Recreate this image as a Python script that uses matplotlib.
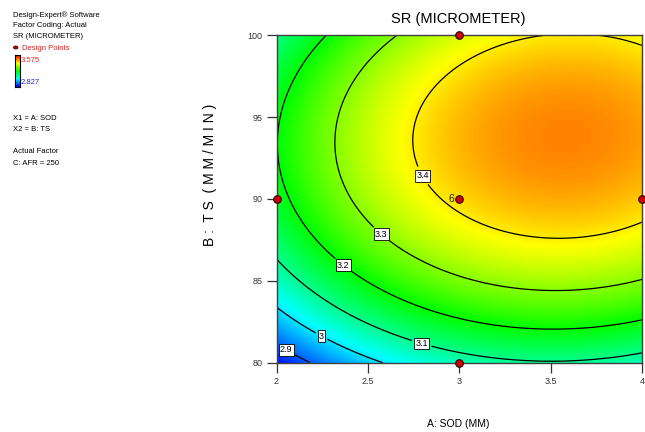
import numpy as np
import matplotlib
matplotlib.use("Agg")
import matplotlib.pyplot as plt
from matplotlib.colors import LinearSegmentedColormap

plt.rcParams['font.family'] = ['Liberation Sans', 'DejaVu Sans']

# response surface (coded factors x = A - 3, y = (B - 90) / 10)
coef_const = 3.4134
coef_a = 0.1253
coef_b = 0.1467
coef_aa = -0.1122
coef_bb = -0.200
coef_ab = 0.01265

z_min = 2.827
z_max = 3.575

contour_levels = [2.9, 3.0, 3.1, 3.2, 3.3, 3.4]
label_spots = [(2.07, 81.1), (2.26, 81.9), (2.80, 81.4), (2.375, 86.1), (2.576, 87.9), (2.78, 91.3)]

# design points
design_a = [2, 3, 3, 4, 3]
design_b = [90, 100, 90, 90, 80]

x_ticks = [2, 2.5, 3, 3.5, 4]
x_tick_labels = ["2", "2.5", "3", "3.5", "4"]
y_ticks = [80, 85, 90, 95, 100]

legend_lines = ["Design-Expert\u00ae Software", "Factor Coding: Actual", "SR (MICROMETER)"]
factor_lines = ["X1 = A: SOD", "X2 = B: TS", "", "Actual Factor", "C: AFR = 250"]


def predict(a, b):
    x = a - 3.0
    y = (b - 90.0) / 10.0
    return (coef_const + coef_a * x + coef_b * y + coef_aa * x ** 2
            + coef_bb * y ** 2 + coef_ab * x * y)


de_cmap = LinearSegmentedColormap.from_list(
    "de", [(0, "#0000ff"), (0.25, "#00ffff"), (0.5, "#00ff00"),
           (0.75, "#ffff00"), (1.0, "#ff0000")])

W, H = 645, 432
fig = plt.figure(figsize=(W / 100, H / 100), dpi=100)
ax = fig.add_axes([276.5 / W, 1 - 362.7 / H, (642 - 276.5) / W, (362.7 - 35.3) / H])

grid_a = np.linspace(2, 4, 241)
grid_b = np.linspace(80, 100, 241)
AA, BB = np.meshgrid(grid_a, grid_b)
ZZ = predict(AA, BB)

ax.imshow(ZZ, extent=[2, 4, 80, 100], origin="lower", aspect="auto",
          cmap=de_cmap, vmin=z_min, vmax=z_max, interpolation="bilinear")
cs = ax.contour(AA, BB, ZZ, levels=contour_levels, colors="black", linewidths=0.9)
labels = ax.clabel(cs, fmt=lambda v: f"{v:g}", fontsize=6.5, inline=True,
                   inline_spacing=4, manual=label_spots)
for t in labels:
    t.set_rotation(0)
    t.set_bbox(dict(boxstyle="square,pad=0.15", fc="white", ec="black", lw=0.6))

ax.scatter(design_a, design_b, s=30, c="#cc0000", edgecolors="#300000",
           linewidths=0.8, zorder=5, clip_on=False)
ax.text(2.972, 90, "6", ha="right", va="center", fontsize=7.5, color="#222000", zorder=6)

ax.set_xlim(2, 4)
ax.set_ylim(80, 100)
ax.set_xticks(x_ticks)
ax.set_xticklabels(x_tick_labels)
ax.set_yticks(y_ticks)
ax.tick_params(axis="both", direction="out", length=7, width=0.9,
               labelsize=6.5, colors="#333333", pad=3)
for s in ax.spines.values():
    s.set_color("#404040")
    s.set_linewidth(1.0)

fig.text(458.5 / W, 1 - 19 / H, "SR (MICROMETER)", ha="center", va="center", fontsize=10.5)
fig.text(458.5 / W, 1 - 424 / H, "A: SOD (MM)", ha="center", va="center", fontsize=7.5)
fig.text(210 / W, 1 - 175 / H, "B :  T S  ( M M / M I N )", ha="center", va="center",
         rotation=90, fontsize=10)

# left info panel
for i, line in enumerate(legend_lines):
    fig.text(13 / W, 1 - (15 + 10.8 * i) / H, line, ha="left", va="center", fontsize=5.5)
fig.text(22 / W, 1 - 48 / H, "Design Points", ha="left", va="center",
         fontsize=5.5, color="#cc2222")
fig.patches.append(plt.Circle((15.7 / W, 1 - 47.5 / H), 2.2 / W, transform=fig.transFigure,
                              fc="#cc0000", ec="#300000", lw=0.6))

cax = fig.add_axes([14.5 / W, 1 - 87 / H, 5 / W, 32 / H])
cax.imshow(np.linspace(1, 0, 64).reshape(-1, 1), cmap=de_cmap, aspect="auto")
cax.set_xticks([])
cax.set_yticks([])
for s in cax.spines.values():
    s.set_linewidth(0.8)
fig.text(21 / W, 1 - 61 / H, f"{z_max:.3f}", ha="left", va="center", fontsize=5.5, color="#ee2222")
fig.text(21 / W, 1 - 83 / H, f"{z_min:.3f}", ha="left", va="center", fontsize=5.5, color="#2222ee")

for i, line in enumerate(factor_lines):
    fig.text(13 / W, 1 - (118 + 11.3 * i) / H, line, ha="left", va="center", fontsize=5.5)

fig.savefig("out.png", dpi=100)
